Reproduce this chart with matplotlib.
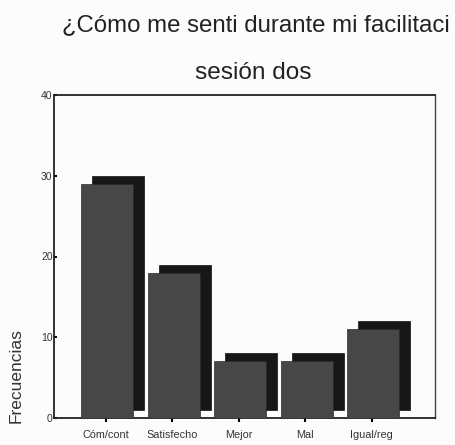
import numpy as np
import matplotlib
matplotlib.use('Agg')
import matplotlib.pyplot as plt

# frequencies per answer, session two
categories = ['Cóm/cont', 'Satisfecho', 'Mejor', 'Mal', 'Igual/reg']
counts = [29, 18, 7, 7, 11]
y_ticks = [0, 10, 20, 30, 40]

plt.rcParams['font.family'] = ['Liberation Sans', 'DejaVu Sans']

fig = plt.figure(figsize=(4.56, 4.45), dpi=100)
fig.patch.set_facecolor('#fcfcfc')
ax = fig.add_axes([54 / 456, 1 - 418 / 445, 381 / 456, 323 / 445])
ax.set_facecolor('#fcfcfc')

x = np.arange(len(categories))
width = 0.78
depth_x = 0.165   # sideways offset of the 3-D back face
depth_y = 1.0     # vertical offset of the back face

# back face first, then the front face on top of it
ax.bar(x + 0.02 + depth_x, counts, width=width, bottom=depth_y,
       color='#171717', edgecolor='#101010', linewidth=0.5, zorder=2)
ax.bar(x + 0.02, counts, width=width, color='#474747',
       edgecolor='#2a2a2a', linewidth=0.5, zorder=3)

ax.set_xlim(-0.78, 4.95)
ax.set_ylim(0, 40)
ax.set_yticks(y_ticks)
ax.set_yticklabels([str(t) for t in y_ticks], fontsize=7.5, color='#333333')
ax.set_xticks(x)
ax.set_xticklabels(categories, fontsize=7.8, color='#333333')
ax.tick_params(axis='y', direction='in', length=2, width=1.5, pad=1)
ax.tick_params(axis='x', direction='out', length=3, width=1.5, pad=6)

for side in ['left', 'bottom', 'top']:
    ax.spines[side].set_linewidth(1.3)
    ax.spines[side].set_color('#222222')
ax.spines['right'].set_linewidth(1.0)
ax.spines['right'].set_color('#444444')

ax.set_ylabel('Frecuencias', fontsize=12.5, color='#333333')
ax.yaxis.set_label_coords(-0.079, 0.13)

# two-line title; the first line stops at the right edge
fig.text(62 / 456, 1 - 31 / 445, '¿Cómo me senti durante mi facilitaci',
         fontsize=17.3, color='#222222', ha='left', va='baseline')
fig.text(253 / 456, 1 - 79 / 445, 'sesión dos',
         fontsize=17.6, color='#222222', ha='center', va='baseline')

plt.savefig('out.png', dpi=100, facecolor=fig.get_facecolor())
